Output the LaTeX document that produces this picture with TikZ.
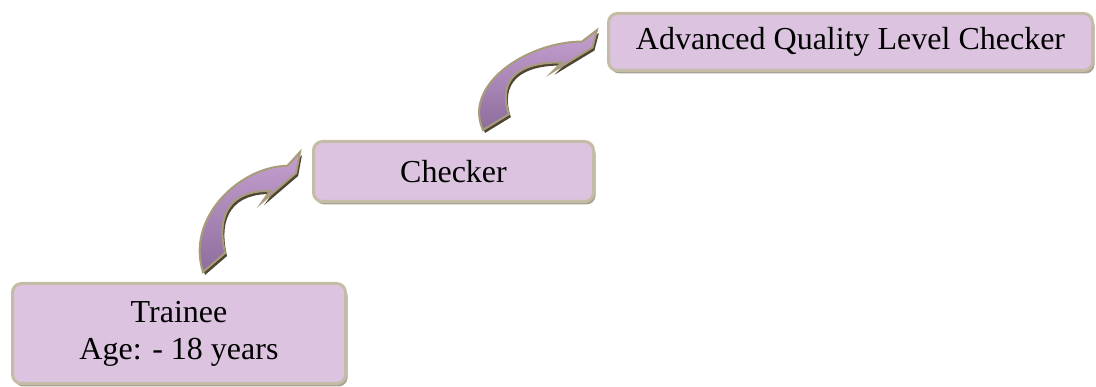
\documentclass[tikz,border=0pt]{standalone}
\usepackage{fontspec}
\setmainfont{Liberation Serif}
\usepackage{xcolor}
\usepackage{tikz}
\usetikzlibrary{shadows}
\definecolor{boxfill}{HTML}{DCC4E0}
\definecolor{boxline}{HTML}{C4BCA6}
\definecolor{boxshadow}{HTML}{A8A292}
\definecolor{arrowlight}{HTML}{C4A0D0}
\definecolor{arrowdark}{HTML}{8E6E9E}
\definecolor{arrowline}{HTML}{A89C7A}
\definecolor{arrowshadow}{HTML}{4E4632}
\tikzset{
	level box/.style={rectangle,rounded corners=9pt,draw=boxline,line width=3pt,fill=boxfill,
		inner sep=0pt,align=center,font=\fontsize{32}{37}\selectfont,
		drop shadow={shadow xshift=2pt,shadow yshift=-3pt,fill=boxshadow,opacity=1}},
	arrow body/.style={draw=arrowline,line width=2pt,top color=arrowlight,bottom color=arrowdark},
	arrow shadow/.style={fill=arrowshadow}
}
% curved step arrow, tail at (0,0), tip at (1,1)
\newcommand{\steparrow}{(0,0) .. controls (-0.18,0.45) and (0.38,0.88) .. (0.87,0.885) -- (1,1)
	-- (0.96,0.825) -- (0.61,0.583) -- (0.69,0.675) .. controls (0.3,0.68) and (0.13,0.5) .. (0.227,0.158) -- cycle}

\begin{document}
\begin{tikzpicture}[x=1pt,y=-1pt]
	\useasboundingbox (0,0) rectangle (1096,387);

	\node[level box,minimum width=333pt,minimum height=100pt] (trainee) at (179,333.5) {Trainee\\Age: - 18 years};
	\node[level box,minimum width=280pt,minimum height=60pt] (checker) at (453.5,171.5) {Checker};
	\node[level box,minimum width=484pt,minimum height=57pt] (advanced) at (850.5,42) {Advanced Quality Level Checker};

	% trainee -> checker
	\fill[arrow shadow,shift={(205,275)},xscale=97,yscale=-120] \steparrow;
	\path[arrow body,shift={(203,272)},xscale=97,yscale=-120] \steparrow;

	% checker -> advanced
	\fill[arrow shadow,shift={(485,133)},xscale=114,yscale=-100] \steparrow;
	\path[arrow body,shift={(483,130)},xscale=114,yscale=-100] \steparrow;
\end{tikzpicture}
\end{document}
